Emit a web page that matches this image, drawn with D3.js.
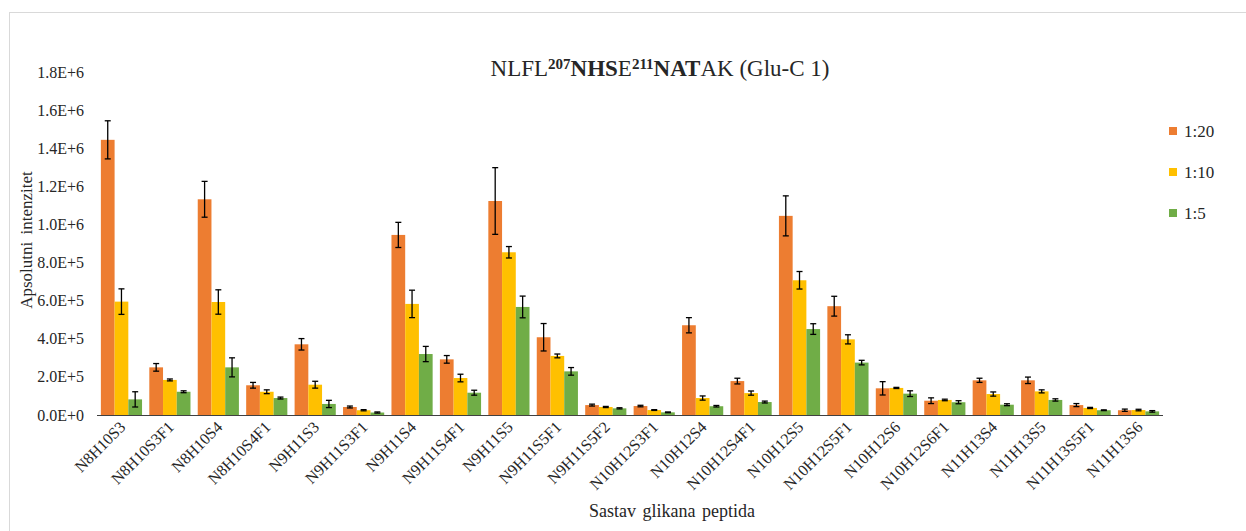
<!DOCTYPE html>
<html>
<head>
<meta charset="utf-8">
<script src="https://cdn.jsdelivr.net/npm/d3@7"></script>
<style>
    body { margin: 0; background: #fff; }
    svg { display: block; font-family: "Liberation Serif", "Times New Roman", serif; }
</style>
</head>
<body>
<svg id="chart" width="1246" height="531"></svg>
<script>
// categories (x axis)
var categories = ["N8H10S3", "N8H10S3F1", "N8H10S4", "N8H10S4F1", "N9H11S3", "N9H11S3F1",
    "N9H11S4", "N9H11S4F1", "N9H11S5", "N9H11S5F1", "N9H11S5F2", "N10H12S3F1", "N10H12S4",
    "N10H12S4F1", "N10H12S5", "N10H12S5F1", "N10H12S6", "N10H12S6F1", "N11H13S4", "N11H13S5",
    "N11H13S5F1", "N11H13S6"];

var seriesNames = ["1:20", "1:10", "1:5"];

// values
var val20 = [1444000, 250000, 1132000, 156000, 371000, 42000, 945000, 292000, 1123000, 408000, 52000,
    47000, 471000, 178000, 1045000, 571000, 140000, 75000, 182000, 182000, 52000, 25000];
var err20 = [100000, 20000, 94000, 15000, 30000, 5000, 66000, 20000, 175000, 72000, 5000,
    4000, 40000, 15000, 105000, 52000, 35000, 15000, 11000, 17000, 8000, 6000];

var val10 = [595000, 184000, 593000, 122000, 159000, 25000, 583000, 194000, 854000, 310000, 42000,
    26000, 89000, 115000, 707000, 397000, 142000, 79000, 110000, 124000, 37000, 26000];
var err10 = [67000, 5000, 64000, 10000, 18000, 3000, 72000, 20000, 30000, 10000, 3000,
    2000, 11000, 11000, 46000, 24000, 3000, 4000, 11000, 8000, 3000, 4000];

var val5 = [82000, 122000, 250000, 89000, 58000, 13000, 320000, 117000, 567000, 229000, 35000,
    14000, 46000, 68000, 451000, 275000, 112000, 67000, 54000, 79000, 25000, 19000];
var err5 = [40000, 5000, 50000, 5000, 19000, 3000, 40000, 13000, 57000, 20000, 3000,
    2000, 4000, 5000, 28000, 12000, 15000, 8000, 5000, 6000, 2000, 4000];

var yTicks = [0, 200000, 400000, 600000, 800000, 1000000, 1200000, 1400000, 1600000, 1800000];

var colors = ["#ED7D31", "#FFC000", "#70AD47"];

var svg = d3.select("#chart");

// chart area border
svg.append("rect")
    .attr("x", 9.5).attr("y", 12.5)
    .attr("width", 1246).attr("height", 531)
    .attr("fill", "none")
    .attr("stroke", "#d9d9d9");

var plotLeft = 97, plotRight = 1163, plotTop = 72, plotBottom = 415;

var x0 = d3.scaleBand().domain(categories).range([plotLeft, plotRight]).paddingInner(0.15).paddingOuter(0.08);
var x1 = d3.scaleBand().domain(seriesNames).range([0, x0.bandwidth()]);
var y = d3.scaleLinear().domain([0, 1800000]).range([plotBottom, plotTop]);

// build rows from the arrays
var allVals = [val20, val10, val5];
var allErrs = [err20, err10, err5];
var rows = [];
seriesNames.forEach(function (s, si) {
    categories.forEach(function (c, i) {
        rows.push({ cat: c, series: s, si: si, v: allVals[si][i], e: allErrs[si][i] });
    });
});

// y tick labels
svg.append("g").selectAll("text")
    .data(yTicks)
    .enter()
    .append("text")
    .attr("x", 84)
    .attr("y", function (d) { return y(d); })
    .attr("dy", "0.35em")
    .attr("text-anchor", "end")
    .attr("font-size", 16)
    .attr("fill", "#262626")
    .text(function (d) { return d.toExponential(1).toUpperCase(); });

// bars
svg.append("g").selectAll("rect")
    .data(rows)
    .enter()
    .append("rect")
    .attr("x", function (d) { return x0(d.cat) + x1(d.series); })
    .attr("y", function (d) { return y(d.v); })
    .attr("width", x1.bandwidth())
    .attr("height", function (d) { return plotBottom - y(d.v); })
    .attr("fill", function (d) { return colors[d.si]; });

// error bars
var eb = svg.append("g").selectAll("g")
    .data(rows)
    .enter()
    .append("g")
    .attr("stroke", "#000")
    .attr("stroke-width", 1.3);
eb.append("line")
    .attr("x1", function (d) { return x0(d.cat) + x1(d.series) + x1.bandwidth() / 2; })
    .attr("x2", function (d) { return x0(d.cat) + x1(d.series) + x1.bandwidth() / 2; })
    .attr("y1", function (d) { return y(d.v + d.e); })
    .attr("y2", function (d) { return y(d.v - d.e); });
[1, -1].forEach(function (sign) {
    eb.append("line")
        .attr("x1", function (d) { return x0(d.cat) + x1(d.series) + x1.bandwidth() / 2 - 3; })
        .attr("x2", function (d) { return x0(d.cat) + x1(d.series) + x1.bandwidth() / 2 + 3; })
        .attr("y1", function (d) { return y(d.v + sign * d.e); })
        .attr("y2", function (d) { return y(d.v + sign * d.e); });
});

// x axis line
svg.append("line")
    .attr("x1", plotLeft).attr("x2", plotRight)
    .attr("y1", plotBottom + 0.5).attr("y2", plotBottom + 0.5)
    .attr("stroke", "#404040")
    .attr("stroke-width", 1.2);

// x labels, rotated
svg.append("g").selectAll("text")
    .data(categories)
    .enter()
    .append("text")
    .attr("transform", function (d) {
        return "translate(" + (x0(d) + x0.bandwidth() / 2 + 5) + "," + (plotBottom + 13) + ") rotate(-45)";
    })
    .attr("text-anchor", "end")
    .attr("font-size", 16)
    .attr("fill", "#262626")
    .text(function (d) { return d; });

// axis titles
svg.append("text")
    .attr("transform", "translate(32,240) rotate(-90)")
    .attr("text-anchor", "middle")
    .attr("font-size", 17)
    .attr("word-spacing", 3)
    .attr("fill", "#262626")
    .text("Apsolutni intenzitet");

svg.append("text")
    .attr("x", 672).attr("y", 517)
    .attr("text-anchor", "middle")
    .attr("font-size", 18)
    .attr("word-spacing", 2)
    .attr("fill", "#262626")
    .text("Sastav glikana peptida");

// title with superscripts and bold parts
var title = svg.append("text")
    .attr("x", 660).attr("y", 76)
    .attr("text-anchor", "middle")
    .attr("font-size", 23)
    .attr("fill", "#262626");
var parts = [
    { t: "NLFL", b: false, sup: false },
    { t: "207", b: true, sup: true },
    { t: "NHS", b: true, sup: false },
    { t: "E", b: false, sup: false },
    { t: "211", b: true, sup: true },
    { t: "NAT", b: true, sup: false },
    { t: "AK (Glu-C 1)", b: false, sup: false }
];
var prevSup = false;
parts.forEach(function (p) {
    var dy = 0;
    if (p.sup && !prevSup) dy = -7;
    if (!p.sup && prevSup) dy = 7;
    title.append("tspan")
        .attr("dy", dy)
        .attr("font-weight", p.b ? "bold" : "normal")
        .attr("font-size", p.sup ? 15 : 23)
        .text(p.t);
    prevSup = p.sup;
});

// legend
var legend = svg.append("g").selectAll("g")
    .data(seriesNames)
    .enter()
    .append("g")
    .attr("transform", function (d, i) { return "translate(1169," + (131 + 41 * i) + ")"; });
legend.append("rect")
    .attr("x", 0).attr("y", -4)
    .attr("width", 8).attr("height", 8)
    .attr("fill", function (d, i) { return colors[i]; });
legend.append("text")
    .attr("x", 15)
    .attr("dy", "0.35em")
    .attr("font-size", 17)
    .attr("fill", "#262626")
    .text(function (d) { return d; });
</script>
</body>
</html>
